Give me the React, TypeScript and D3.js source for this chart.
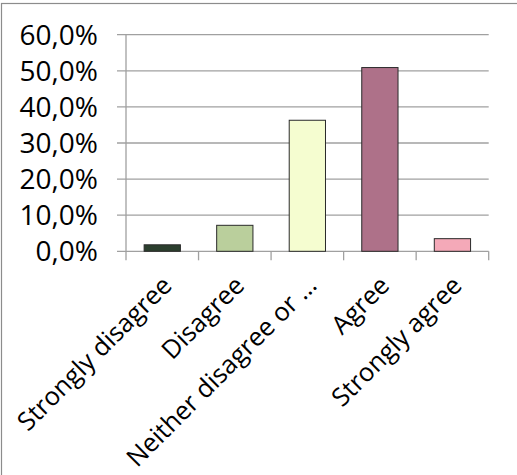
import React from "react";
import * as d3 from "d3";

const categories = ["Strongly disagree", "Disagree", "Neither disagree or …", "Agree", "Strongly agree"];
const values = [1.8, 7.2, 36.3, 50.9, 3.5];
const colors = ["#2b3f2e", "#bacf9c", "#f5fdd0", "#ae7189", "#f4a9b8"];
const yTicks = [0, 10, 20, 30, 40, 50, 60];

const W = 517;
const H = 475;
const left = 126;
const right = 488.7;
const top = 34.7;
const bottom = 251.3;
const font = "'Open Sans', sans-serif";

export default function App() {
  const x = d3.scaleBand<string>().domain(categories).range([left, right]).paddingInner(0.5).paddingOuter(0.25);
  const xb = d3.scaleBand<string>().domain(categories).range([left, right]);
  const y = d3.scaleLinear().domain([0, 60]).range([bottom, top]);
  const fmt = (v: number) => v.toFixed(1).replace(".", ",") + "%";
  return (
    <svg width={W} height={H} style={{ position: "absolute", left: 0, top: 0, background: "#fff" }}>
      <rect x={1.5} y={3.5} width={W + 10} height={H + 10} fill="#fff" stroke="#8c8c8c" strokeWidth={1.2} />
      {yTicks.map((t) => (
        <g key={t}>
          <line x1={left - 9} x2={right} y1={y(t)} y2={y(t)} stroke="#a0a0a0" strokeWidth={1.3} />
          <text x={98} y={y(t)} dy="0.36em" textAnchor="end" fontFamily={font} fontSize={28} fill="#000">
            {fmt(t)}
          </text>
        </g>
      ))}
      <line x1={left} x2={left} y1={top} y2={bottom + 9} stroke="#a0a0a0" strokeWidth={1.3} />
      {categories.map((c) => (
        <line key={"t" + c} x1={(xb(c) as number) + xb.bandwidth()} x2={(xb(c) as number) + xb.bandwidth()} y1={bottom} y2={bottom + 9} stroke="#a0a0a0" strokeWidth={1.3} />
      ))}
      {categories.map((c, i) => (
        <rect
          key={c}
          x={x(c)}
          y={y(values[i])}
          width={x.bandwidth()}
          height={bottom - y(values[i])}
          fill={colors[i]}
          stroke="#2a2a2a"
          strokeWidth={1}
        />
      ))}
      {categories.map((c) => {
        const cx = (xb(c) as number) + xb.bandwidth() / 2 + 11;
        const cy = 287;
        return (
          <text key={"l" + c} transform={`translate(${cx},${cy}) rotate(-45)`} textAnchor="end" fontFamily={font} fontSize={25.5} fill="#000">
            {c}
          </text>
        );
      })}
    </svg>
  );
}
